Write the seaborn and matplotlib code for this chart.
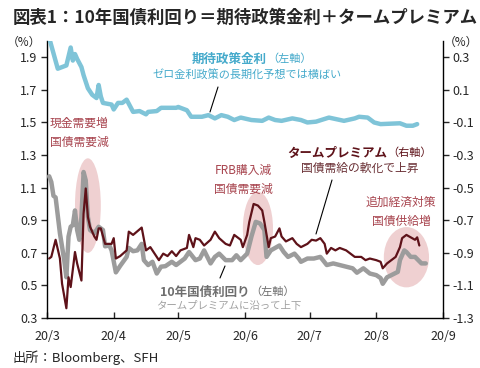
import matplotlib
matplotlib.use("Agg")
import matplotlib.pyplot as plt
import matplotlib.dates as mdates
from matplotlib.patches import Ellipse
import seaborn as sns
import pandas as pd

# 10年国債利回り (左軸, %)
jgb_dates = ["03-02", "03-03", "03-04", "03-05", "03-06", "03-07", "03-09", "03-10", "03-11", "03-12",
             "03-13", "03-14", "03-15", "03-16", "03-17", "03-18", "03-19", "03-20", "03-21", "03-23",
             "03-25", "03-27", "03-28", "03-30", "03-31", "04-02", "04-04", "04-07", "04-08", "04-10",
             "04-12", "04-14", "04-15", "04-17", "04-19", "04-21", "04-23", "04-25", "04-28", "04-30",
             "05-01", "05-04", "05-06", "05-09", "05-11", "05-13", "05-16", "05-18", "05-20", "05-23",
             "05-26", "05-28", "05-30", "06-02", "06-04", "06-06", "06-08", "06-10", "06-11", "06-13",
             "06-15", "06-17", "06-19", "06-21", "06-24", "06-26", "06-27", "06-30", "07-03", "07-06",
             "07-09", "07-12", "07-15", "07-18", "07-21", "07-23", "07-26", "07-29", "08-01", "08-03",
             "08-04", "08-06", "08-08", "08-11", "08-12", "08-14", "08-15", "08-17", "08-19", "08-22",
             "08-24"]
jgb_yield = [1.17, 1.135, 1.05, 1.04, 0.93, 0.82, 0.655, 0.55, 0.80, 0.86,
             0.87, 0.96, 0.84, 0.78, 0.92, 1.196, 1.145, 0.92, 0.84, 0.82,
             0.86, 0.84, 0.74, 0.745, 0.715, 0.58, 0.62, 0.675, 0.73, 0.71,
             0.715, 0.755, 0.655, 0.625, 0.645, 0.573, 0.615, 0.618, 0.645, 0.625,
             0.635, 0.665, 0.705, 0.655, 0.665, 0.715, 0.635, 0.675, 0.695, 0.655,
             0.655, 0.685, 0.655, 0.695, 0.80, 0.89, 0.88, 0.84, 0.675, 0.715,
             0.73, 0.745, 0.705, 0.675, 0.695, 0.665, 0.645, 0.665, 0.665, 0.675,
             0.625, 0.635, 0.625, 0.615, 0.605, 0.578, 0.605, 0.573, 0.563, 0.545,
             0.51, 0.55, 0.563, 0.583, 0.655, 0.715, 0.705, 0.675, 0.675, 0.635,
             0.635]

# タームプレミアム (右軸, %)
tp_dates = ["03-02", "03-03", "03-05", "03-07", "03-08", "03-10", "03-11", "03-12", "03-14", "03-15",
            "03-17", "03-18", "03-19", "03-20", "03-21", "03-23", "03-24", "03-25", "03-26", "03-28",
            "03-31", "04-01", "04-02", "04-04", "04-07", "04-08", "04-10", "04-14", "04-16", "04-18",
            "04-19", "04-21", "04-22", "04-24", "04-26", "04-28", "04-30", "05-02", "05-05", "05-06",
            "05-08", "05-09", "05-11", "05-13", "05-16", "05-18", "05-20", "05-23", "05-25", "05-27",
            "05-30", "05-31", "06-02", "06-03", "06-05", "06-07", "06-09", "06-10", "06-12", "06-13",
            "06-15", "06-17", "06-18", "06-20", "06-23", "06-25", "06-27", "06-30", "07-02", "07-04",
            "07-06", "07-08", "07-09", "07-11", "07-13", "07-15", "07-18", "07-20", "07-22", "07-25",
            "07-27", "07-29", "08-01", "08-03", "08-04", "08-06", "08-08", "08-10", "08-12", "08-13",
            "08-15", "08-17", "08-19", "08-20", "08-21"]
term_premium = [-0.935, -0.925, -0.82, -0.935, -1.09, -1.24, -1.05, -1.11, -0.895, -0.965,
                -1.07, -0.66, -0.505, -0.68, -0.74, -0.80, -0.82, -0.75, -0.75, -0.845,
                -0.845, -0.81, -0.935, -0.92, -0.885, -0.77, -0.79, -0.745, -0.885, -0.865,
                -0.885, -0.925, -0.945, -0.905, -0.92, -0.89, -0.92, -0.885, -0.87, -0.79,
                -0.865, -0.81, -0.82, -0.855, -0.82, -0.77, -0.81, -0.845, -0.855, -0.79,
                -0.82, -0.865, -0.79, -0.71, -0.60, -0.61, -0.64, -0.71, -0.865, -0.81,
                -0.80, -0.75, -0.80, -0.83, -0.81, -0.845, -0.865, -0.845, -0.82, -0.825,
                -0.81, -0.845, -0.905, -0.87, -0.885, -0.87, -0.885, -0.905, -0.925, -0.925,
                -0.945, -0.935, -0.945, -0.955, -0.995, -0.965, -0.945, -0.925, -0.865, -0.81,
                -0.79, -0.805, -0.82, -0.805, -0.855]

# 期待政策金利 (左軸, %)
policy_dates = ["03-02", "03-06", "03-10", "03-12", "03-13", "03-14", "03-15", "03-17", "03-18", "03-20",
                "03-22", "03-24", "03-25", "03-26", "03-27", "03-31", "04-01", "04-03", "04-05", "04-07",
                "04-10", "04-13", "04-16", "04-17", "04-21", "04-23", "04-28", "04-30", "05-01", "05-05",
                "05-07", "05-12", "05-15", "05-18", "05-21", "05-24", "05-27", "05-30", "06-04", "06-09",
                "06-12", "06-15", "06-18", "06-23", "06-27", "06-30", "07-04", "07-10", "07-17", "07-22",
                "07-24", "07-28", "07-31", "08-03", "08-12", "08-15", "08-18", "08-20"]
policy_rate = [2.02, 1.83, 1.85, 1.96, 1.88, 1.92, 1.89, 1.84, 1.79, 1.71,
               1.67, 1.65, 1.73, 1.66, 1.62, 1.61, 1.58, 1.62, 1.62, 1.64,
               1.565, 1.57, 1.55, 1.565, 1.57, 1.59, 1.59, 1.59, 1.595, 1.575,
               1.535, 1.535, 1.545, 1.525, 1.545, 1.535, 1.515, 1.53, 1.515, 1.51,
               1.53, 1.515, 1.51, 1.525, 1.515, 1.50, 1.505, 1.53, 1.51, 1.525,
               1.535, 1.53, 1.50, 1.49, 1.495, 1.48, 1.48, 1.49]

month_ticks = ["2020-03-01", "2020-04-01", "2020-05-01", "2020-06-01", "2020-07-01", "2020-08-01", "2020-09-01"]
month_labels = ["20/3", "20/4", "20/5", "20/6", "20/7", "20/8", "20/9"]
left_ticks = [0.3, 0.5, 0.7, 0.9, 1.1, 1.3, 1.5, 1.7, 1.9]
right_ticks = [-1.3, -1.1, -0.9, -0.7, -0.5, -0.3, -0.1, 0.1, 0.3]


def to_dt(days):
    return pd.to_datetime(["2020-" + d for d in days])


jgb = pd.DataFrame({"date": to_dt(jgb_dates), "value": jgb_yield})
tp = pd.DataFrame({"date": to_dt(tp_dates), "value": term_premium})
pol = pd.DataFrame({"date": to_dt(policy_dates), "value": policy_rate})

sns.set_style("white")
plt.rcParams["font.family"] = ["Noto Sans CJK JP", "DejaVu Sans"]

BLUE = "#7FC4D8"
BLUE_TXT = "#45AACB"
GRAY = "#9C9C9C"
MAROON = "#5E1219"
RED_TXT = "#A8454F"
PINK = "#EFD0D1"

fig = plt.figure(figsize=(4.8, 3.68), dpi=100)
ax = fig.add_axes([47 / 480, 1 - 318 / 368, (443 - 47) / 480, (318 - 41) / 368])
ax2 = ax.twinx()

# 楕円 (強調)
for c, v, w, h in [("2020-03-20", 0.99, 12, 0.58), ("2020-06-07", 0.85, 14, 0.45), ("2020-08-15", 0.673, 21, 0.37)]:
    ax.add_patch(Ellipse((mdates.date2num(pd.Timestamp(c)), v), w, h, color=PINK, zorder=0, lw=0))

sns.lineplot(data=pol, x="date", y="value", ax=ax, color=BLUE, linewidth=3.2, zorder=3)
sns.lineplot(data=jgb, x="date", y="value", ax=ax, color=GRAY, linewidth=3.2, zorder=3)
sns.lineplot(data=tp, x="date", y="value", ax=ax2, color=MAROON, linewidth=1.6, zorder=3)

ax.set_xlim(pd.Timestamp("2020-03-01"), pd.Timestamp("2020-09-01"))
ax.set_ylim(0.3, 2.0)
ax2.set_ylim(-1.3, 0.4)
ax.set_yticks(left_ticks)
ax.set_yticklabels([f"{t:.1f}" for t in left_ticks])
ax2.set_yticks(right_ticks)
ax2.set_yticklabels([f"{t:.1f}" for t in right_ticks])
ax.set_xticks(pd.to_datetime(month_ticks))
ax.set_xticklabels(month_labels)
ax.set_xlabel("")
ax.set_ylabel("")
ax2.set_ylabel("")

for a in (ax, ax2):
    a.spines["top"].set_visible(False)
    for s in ("left", "right", "bottom"):
        a.spines[s].set_color("black")
        a.spines[s].set_linewidth(1.0)
ax.spines["right"].set_visible(False)
ax2.spines["left"].set_visible(False)
ax2.spines["bottom"].set_visible(False)
ax.tick_params(axis="y", direction="out", length=4, width=1, labelsize=9, pad=3, left=True)
ax.tick_params(axis="x", direction="in", length=4, width=1, labelsize=9, pad=9, bottom=True)
ax2.tick_params(axis="y", direction="out", length=4, width=1, labelsize=9, pad=3, right=True)

W, H = 480, 368


def ftext(x, y, s, **kw):
    fig.text(x / W, 1 - y / H, s, va="center", **kw)


ftext(13, 18, "図表1：10年国債利回り＝期待政策金利＋タームプレミアム", fontsize=12.5, fontweight="bold", ha="left")
ftext(13, 358, "出所：Bloomberg、SFH", fontsize=9.5, ha="left")
ftext(24, 42, "（%）", fontsize=8.5, ha="center")
ftext(461, 42, "（%）", fontsize=8.5, ha="center")

ftext(267, 59, "期待政策金利", fontsize=9, fontweight="bold", color=BLUE_TXT, ha="right")
ftext(267, 59, "（左軸）", fontsize=8, color=BLUE_TXT, ha="left")
ftext(247, 75, "ゼロ金利政策の長期化予想では横ばい", fontsize=8, color=BLUE_TXT, ha="center")
fig.add_artist(plt.Line2D([218 / W, 210 / W], [1 - 87 / H, 1 - 112 / H], color="black", lw=0.8))

ftext(79, 133, "現金需要増\n国債需要減", fontsize=8.5, color=RED_TXT, ha="center", linespacing=1.6)
ftext(243, 180, "FRB購入減\n国債需要減", fontsize=8.5, color=RED_TXT, ha="center", linespacing=1.6)
ftext(401, 212, "追加経済対策\n国債供給増", fontsize=8.5, color=RED_TXT, ha="center", linespacing=1.6)

ftext(387, 153, "タームプレミアム", fontsize=9, fontweight="bold", color=MAROON, ha="right")
ftext(387, 153, "（右軸）", fontsize=8, color=MAROON, ha="left")
ftext(360, 168, "国債需給の軟化で上昇", fontsize=8.5, color="#6A3035", ha="center")
fig.add_artist(plt.Line2D([332 / W, 316 / W], [1 - 180 / H, 1 - 234 / H], color="black", lw=0.8))

ftext(250, 292, "10年国債利回り", fontsize=9, fontweight="bold", color="#6E6E6E", ha="right")
ftext(250, 292, "（左軸）", fontsize=8, color="#6E6E6E", ha="left")
ftext(229, 306, "タームプレミアムに沿って上下", fontsize=7.5, color="#A0A0A0", ha="center")
fig.add_artist(plt.Line2D([225 / W, 220 / W], [1 - 266 / H, 1 - 278 / H], color="black", lw=0.8))

fig.savefig("out.png", dpi=100)
